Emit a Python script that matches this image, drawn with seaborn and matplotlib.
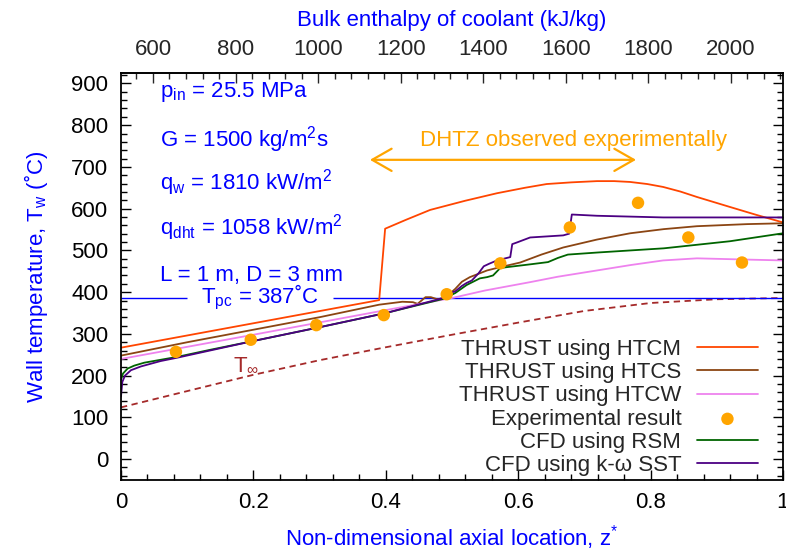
import numpy as np
import pandas as pd
import matplotlib
matplotlib.use("Agg")
import matplotlib.pyplot as plt
import seaborn as sns
from matplotlib.ticker import MultipleLocator

# ---------------- data ----------------
z_htcm = [0, 0.39, 0.399, 0.43, 0.467, 0.52, 0.568, 0.61, 0.643, 0.68, 0.719, 0.745,
          0.769, 0.795, 0.819, 0.845, 0.87, 0.895, 0.92, 0.96, 1.0]
t_htcm = [267, 381, 552, 573, 597, 619, 637, 650, 659, 663, 666, 666,
          664, 659, 652, 641, 628, 616, 604, 585, 567]

z_htcs = [0, 0.1, 0.2, 0.3, 0.39, 0.425, 0.441, 0.448, 0.46, 0.468, 0.478, 0.49, 0.505,
          0.515, 0.527, 0.553, 0.573, 0.603, 0.635, 0.668, 0.719, 0.769, 0.82, 0.87,
          0.946, 1.0]
t_htcs = [248, 280, 310, 340, 370, 377, 376, 372, 388, 388, 383, 387, 408,
          425, 436, 452, 460, 471, 490, 507, 526, 541, 551, 558,
          563, 565]

z_htcw = [0, 0.2, 0.4, 0.5, 0.55, 0.618, 0.66, 0.719, 0.77, 0.819, 0.87, 0.946, 1.0]
t_htcw = [240, 298, 357, 386, 404, 424, 437, 452, 465, 476, 481, 478, 476]

z_exp = [0.083, 0.196, 0.295, 0.397, 0.492, 0.573, 0.678, 0.781, 0.857, 0.938]
t_exp = [257, 286, 321, 345, 395, 469, 555, 614, 531, 471]

z_rsm = [0, 0.003, 0.01, 0.02, 0.035, 0.085, 0.135, 0.2, 0.3, 0.4, 0.487, 0.505, 0.522,
         0.542, 0.553, 0.562, 0.573, 0.62, 0.645, 0.66, 0.675, 0.72, 0.82, 0.92, 1.0]
t_rsm = [190, 205, 217, 224, 231, 245, 262, 283, 316, 350, 384, 398, 417,
         433, 436, 440, 458, 467, 472, 482, 490, 495, 505, 522, 541]

z_sst = [0, 0.002, 0.006, 0.015, 0.03, 0.06, 0.085, 0.2, 0.3, 0.4, 0.487, 0.497, 0.505,
         0.515, 0.522, 0.53, 0.54, 0.548, 0.556, 0.568, 0.588, 0.591, 0.598, 0.618,
         0.668, 0.677, 0.681, 0.719, 0.819, 1.0]
t_sst = [150, 185, 200, 213, 222, 235, 243, 283, 316, 350, 386, 398, 402,
         415, 422, 428, 445, 462, 468, 476, 484, 515, 519, 531,
         536, 540, 586, 583, 579, 579]

z_tinf = [0, 0.1, 0.2, 0.3, 0.4, 0.5, 0.6, 0.7, 0.8, 0.9, 1.0]
t_tinf = [124, 163, 202, 237, 268, 298, 327, 355, 374, 383, 386]

t_pc = 387
enthalpy_ticks = [600, 800, 1000, 1200, 1400, 1600, 1800, 2000]
h_at_z0, h_span = 522.5, 1604.0   # bulk enthalpy (kJ/kg) at z*=0 and its increase to z*=1

labels = ["THRUST using HTCM", "THRUST using HTCS", "THRUST using HTCW",
          "Experimental result", "CFD using RSM", "CFD using k-\u03c9 SST"]

# ---------------- style ----------------
sns.set_theme(style="ticks")
plt.rcParams["font.family"] = ["Liberation Sans", "DejaVu Sans"]
plt.rcParams["mathtext.fontset"] = "custom"
plt.rcParams["mathtext.rm"] = "Liberation Sans"
plt.rcParams["mathtext.it"] = "Liberation Sans:italic"
plt.rcParams["mathtext.sf"] = "Liberation Sans"
FS = 16

fig = plt.figure(figsize=(7.86, 5.57), dpi=100)
ax = fig.add_axes([121 / 786, 77 / 557, 662 / 786, 407 / 557])

lw = 1.3
sns.lineplot(x=z_tinf, y=t_tinf, ax=ax, color="#a52a2a", lw=1.3, ls=(0, (3.5, 2.5)),
             sort=False, estimator=None)
ax.hlines([t_pc, t_pc], [0, 0.32], [0.0997, 1.0], color="blue", lw=1.0)

h1 = sns.lineplot(x=z_htcm, y=t_htcm, ax=ax, color="#ff4500", lw=lw, sort=False, estimator=None).lines[-1]
h2 = sns.lineplot(x=z_htcs, y=t_htcs, ax=ax, color="#8b4513", lw=lw, sort=False, estimator=None).lines[-1]
h3 = sns.lineplot(x=z_htcw, y=t_htcw, ax=ax, color="#ee82ee", lw=lw, sort=False, estimator=None).lines[-1]
h5 = sns.lineplot(x=z_rsm, y=t_rsm, ax=ax, color="#006400", lw=lw, sort=False, estimator=None).lines[-1]
h6 = sns.lineplot(x=z_sst, y=t_sst, ax=ax, color="#4b0082", lw=lw, sort=False, estimator=None).lines[-1]
sns.scatterplot(x=z_exp, y=t_exp, ax=ax, color="#ffa500", s=80, edgecolor="none", zorder=5)
h4 = ax.collections[-1]

ax.set_xlim(0, 1)
ax.set_ylim(-50, 925)
ax.xaxis.set_major_locator(MultipleLocator(0.2))
ax.xaxis.set_minor_locator(MultipleLocator(0.04))
ax.yaxis.set_major_locator(MultipleLocator(100))
ax.yaxis.set_minor_locator(MultipleLocator(20))
ax.set_xticks([0, 0.2, 0.4, 0.6, 0.8, 1.0])
ax.set_xticklabels(["0", "0.2", "0.4", "0.6", "0.8", "1"])
ax.tick_params(which="both", direction="in", top=False, right=True, labelsize=FS,
               width=1.0, colors="black")
ax.tick_params(which="major", length=7, pad=9)
ax.tick_params(which="minor", length=4)
for sp in ax.spines.values():
    sp.set_linewidth(1.3)
    sp.set_color("black")

ax.set_xlabel("Non-dimensional axial location, z$^{*}$", color="blue", fontsize=FS, labelpad=7)
ax.set_ylabel("Wall temperature, T$_\\mathrm{w}$ (\u02daC)", color="blue", fontsize=FS, labelpad=15)

sec = ax.secondary_xaxis("top", functions=(lambda z: h_at_z0 + h_span * z,
                                           lambda h: (h - h_at_z0) / h_span))
sec.set_xticks(enthalpy_ticks)
sec.xaxis.set_minor_locator(MultipleLocator(40))
sec.tick_params(which="both", direction="in", labelsize=FS, width=1.0)
sec.tick_params(which="major", length=7, pad=9)
sec.tick_params(which="minor", length=4)
sec.set_xlabel("Bulk enthalpy of coolant (kJ/kg)", color="blue", fontsize=FS, labelpad=10)

# annotations
ann_x = 0.059
ax.text(ann_x, 868, "p$_\\mathrm{in}$ = 25.5 MPa", color="blue", fontsize=FS, va="baseline")
ax.text(ann_x, 748, "G = 1500 kg/m$^\\mathrm{2}$s", color="blue", fontsize=FS, va="baseline")
ax.text(ann_x, 645, "q$_\\mathrm{w}$ = 1810 kW/m$^\\mathrm{2}$", color="blue", fontsize=FS, va="baseline")
ax.text(ann_x, 537, "q$_\\mathrm{dht}$ = 1058 kW/m$^\\mathrm{2}$", color="blue", fontsize=FS, va="baseline")
ax.text(ann_x, 427, "L = 1 m, D = 3 mm", color="blue", fontsize=FS, va="baseline")
ax.text(0.21, 372, "T$_\\mathrm{pc}$ = 387\u02daC", color="blue", fontsize=FS, va="baseline", ha="center")
ax.text(0.169, 213, "T$_{\\infty}$", color="#a52a2a", fontsize=FS, va="baseline")

ax.annotate("", xy=(0.376, 717), xytext=(0.778, 717),
            arrowprops=dict(arrowstyle="<->,head_length=1.4,head_width=0.8",
                            color="#ffa500", lw=1.6, mutation_scale=10,
                            shrinkA=0, shrinkB=0))
ax.text(0.684, 750, "DHTZ observed experimentally", color="#ffa500", fontsize=FS,
        ha="center", va="baseline")

leg = ax.legend([h1, h2, h3, h4, h5, h6], labels, loc="upper right",
                bbox_to_anchor=(758 / 786, 1 - 339 / 557), bbox_transform=fig.transFigure,
                frameon=False, markerfirst=False, fontsize=FS, handlelength=2.75,
                handletextpad=0.7, labelspacing=0.1, borderpad=0, borderaxespad=0)
for t in leg.get_texts():
    t.set_ha("right")

fig.savefig("out.png", dpi=100)
